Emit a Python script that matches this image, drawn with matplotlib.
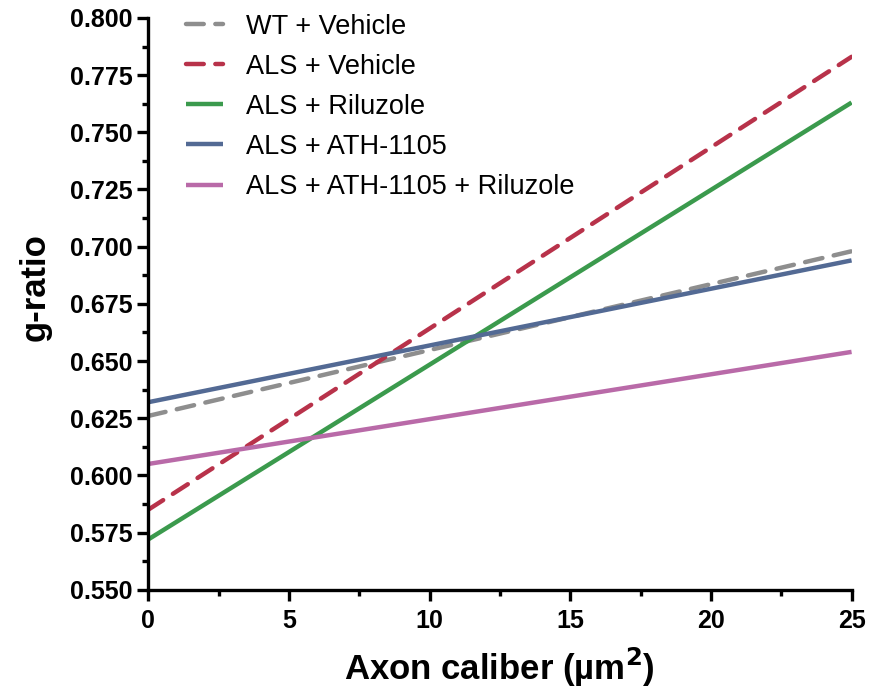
import numpy as np
import matplotlib
matplotlib.use("Agg")
import matplotlib.pyplot as plt
from matplotlib.ticker import MultipleLocator, FormatStrFormatter

plt.rcParams['font.family'] = ['Liberation Sans', 'DejaVu Sans']

# regression lines: g-ratio at x = 0 and x = 25
groups = ["WT + Vehicle", "ALS + Vehicle", "ALS + Riluzole",
          "ALS + ATH-1105", "ALS + ATH-1105 + Riluzole"]
x_ends = [0, 25]
y_start = [0.626, 0.585, 0.572, 0.632, 0.605]
y_end = [0.698, 0.783, 0.763, 0.694, 0.654]
colors = ["#8e8e8e", "#b8324a", "#3b9a4d", "#536a94", "#b96aa8"]
dashed = [True, True, False, False, False]

fig = plt.figure(figsize=(8.77, 6.89), dpi=100)
ax = fig.add_axes([0.169, 0.144, 0.802, 0.830])

for name, y0, y1, c, d in zip(groups, y_start, y_end, colors, dashed):
    ls = (0, (4, 2.6)) if d else '-'
    ax.plot(x_ends, [y0, y1], color=c, lw=3.2, ls=ls, label=name,
            solid_capstyle='butt', dash_capstyle='round')

ax.set_xlim(0, 25)
ax.set_ylim(0.55, 0.80)
ax.xaxis.set_major_locator(MultipleLocator(5))
ax.xaxis.set_minor_locator(MultipleLocator(2.5))
ax.yaxis.set_major_locator(MultipleLocator(0.025))
ax.yaxis.set_minor_locator(MultipleLocator(0.0125))
ax.yaxis.set_major_formatter(FormatStrFormatter('%.3f'))

for s in ['top', 'right']:
    ax.spines[s].set_visible(False)
for s in ['left', 'bottom']:
    ax.spines[s].set_linewidth(2.4)

ax.tick_params(which='major', length=8, width=2.4, labelsize=18)
ax.tick_params(axis='x', which='major', pad=6)
ax.tick_params(axis='y', which='major', pad=3)
ax.tick_params(which='minor', length=4.5, width=2.4)
for lab in ax.get_xticklabels() + ax.get_yticklabels():
    lab.set_fontweight('bold')

ax.set_xlabel(r'Axon caliber (µm$^\mathbf{2}$)', fontsize=25, fontweight='bold', labelpad=9)
ax.set_ylabel('g-ratio', fontsize=25, fontweight='bold')
ax.yaxis.set_label_coords(-0.137, 0.53)

leg = ax.legend(loc='upper left', bbox_to_anchor=(0.019, 1.05), frameon=False,
                fontsize=19.5, handlelength=1.37, handletextpad=0.85, labelspacing=0.52)

fig.savefig("out.png", dpi=100)
